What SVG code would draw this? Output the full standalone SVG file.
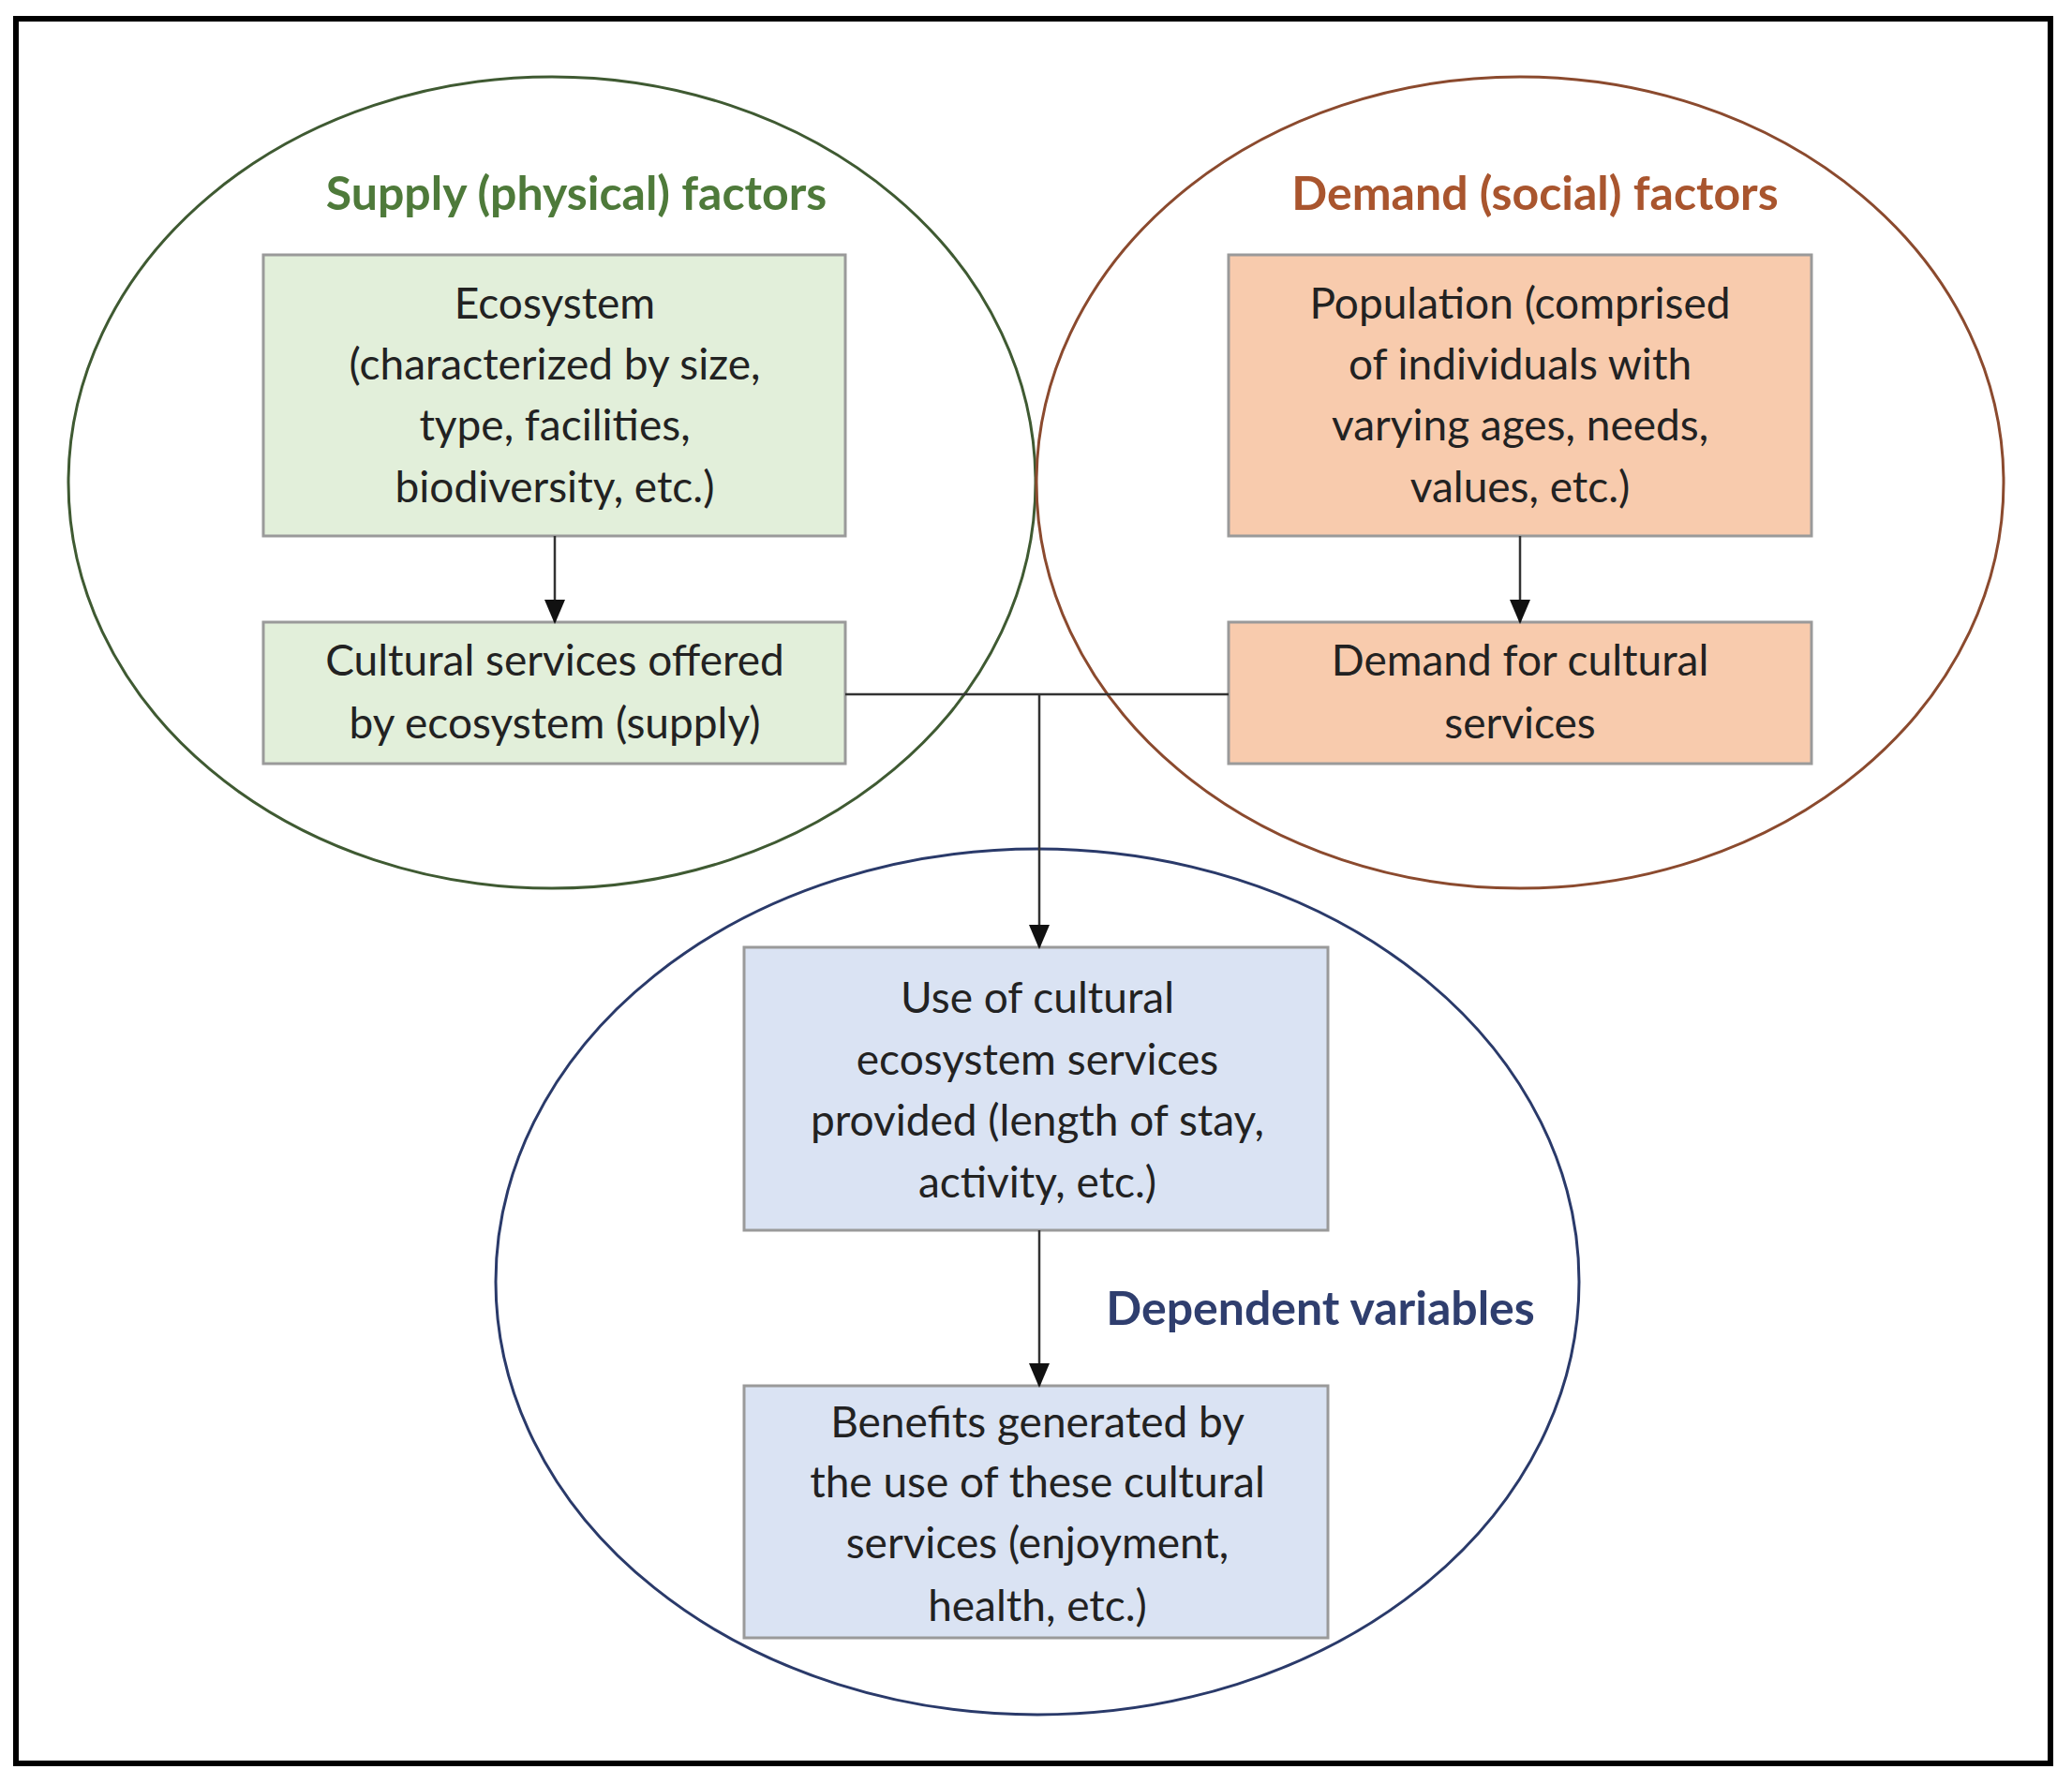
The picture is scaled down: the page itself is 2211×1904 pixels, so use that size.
<svg xmlns="http://www.w3.org/2000/svg" width="2211" height="1904" viewBox="0 0 2211 1904">
<style>
.t{font-family:Lato,"Open Sans",sans-serif;font-size:46px;fill:#222;text-anchor:middle}
.h{font-family:Lato,"Open Sans",sans-serif;font-size:50px;font-weight:bold;text-anchor:middle}
.b{stroke:#9a9a9a;stroke-width:3}
.c{stroke:#333;stroke-width:2.5;fill:none}
</style>
<defs><marker id="a" markerWidth="10" markerHeight="10" refX="9" refY="5" orient="auto" markerUnits="userSpaceOnUse" viewBox="0 0 10 10"><path d="M0,0L10,5L0,10z" fill="#111"/></marker>
<marker id="m" markerWidth="26" markerHeight="26" refX="24" refY="13" orient="auto" markerUnits="userSpaceOnUse"><path d="M0,2L26,13L0,24z" fill="#111"/></marker></defs>
<rect x="0" y="0" width="2211" height="1904" fill="#fff"/>
<rect x="17" y="20" width="2171" height="1862" fill="none" stroke="#000" stroke-width="6"/>
<g id="supply-region"><ellipse cx="589" cy="515" rx="516" ry="433" fill="none" stroke="#3f5a32" stroke-width="3"/><text class="h" x="615" y="224" fill="#4e7a3a">Supply (physical) factors</text></g>
<g id="demand-region"><ellipse cx="1622" cy="515" rx="516" ry="433" fill="none" stroke="#8b4a2e" stroke-width="3"/><text class="h" x="1638" y="224" fill="#a9552e">Demand (social) factors</text></g>
<g id="dependent-region"><ellipse cx="1107" cy="1368" rx="578" ry="462" fill="none" stroke="#2a3a6a" stroke-width="3"/><text class="h" x="1409" y="1414" fill="#2f3e6e">Dependent variables</text></g>
<g id="ecosystem"><rect class="b" x="281" y="272" width="621" height="300" fill="#e2efda"/>
<text class="t" x="592" y="340">Ecosystem</text><text class="t" x="592" y="405">(characterized by size,</text><text class="t" x="592" y="470">type, facilities,</text><text class="t" x="592" y="536">biodiversity, etc.)</text></g>
<g id="supply"><rect class="b" x="281" y="664" width="621" height="151" fill="#e2efda"/>
<text class="t" x="592" y="721">Cultural services offered</text><text class="t" x="592" y="788">by ecosystem (supply)</text></g>
<g id="population"><rect class="b" x="1311" y="272" width="622" height="300" fill="#f8cbad"/>
<text class="t" x="1622" y="340">Population (comprised</text><text class="t" x="1622" y="405">of individuals with</text><text class="t" x="1622" y="470">varying ages, needs,</text><text class="t" x="1622" y="536">values, etc.)</text></g>
<g id="demand"><rect class="b" x="1311" y="664" width="622" height="151" fill="#f8cbad"/>
<text class="t" x="1622" y="721">Demand for cultural</text><text class="t" x="1622" y="788">services</text></g>
<g id="use"><rect class="b" x="794" y="1011" width="623" height="302" fill="#dae3f3"/>
<text class="t" x="1107" y="1081">Use of cultural</text><text class="t" x="1107" y="1147">ecosystem services</text><text class="t" x="1107" y="1212">provided (length of stay,</text><text class="t" x="1107" y="1278">activity, etc.)</text></g>
<g id="benefits"><rect class="b" x="794" y="1479" width="623" height="269" fill="#dae3f3"/>
<text class="t" x="1107" y="1534">Benefits generated by</text><text class="t" x="1107" y="1598">the use of these cultural</text><text class="t" x="1107" y="1663">services (enjoyment,</text><text class="t" x="1107" y="1730">health, etc.)</text></g>
<g id="connectors">
<line class="c" x1="592" y1="572" x2="592" y2="664" marker-end="url(#m)"/>
<line class="c" x1="1622" y1="572" x2="1622" y2="664" marker-end="url(#m)"/>
<line class="c" x1="902" y1="741" x2="1311" y2="741"/>
<line class="c" x1="1109" y1="741" x2="1109" y2="1011" marker-end="url(#m)"/>
<line class="c" x1="1109" y1="1313" x2="1109" y2="1479" marker-end="url(#m)"/>
</g>
</svg>
